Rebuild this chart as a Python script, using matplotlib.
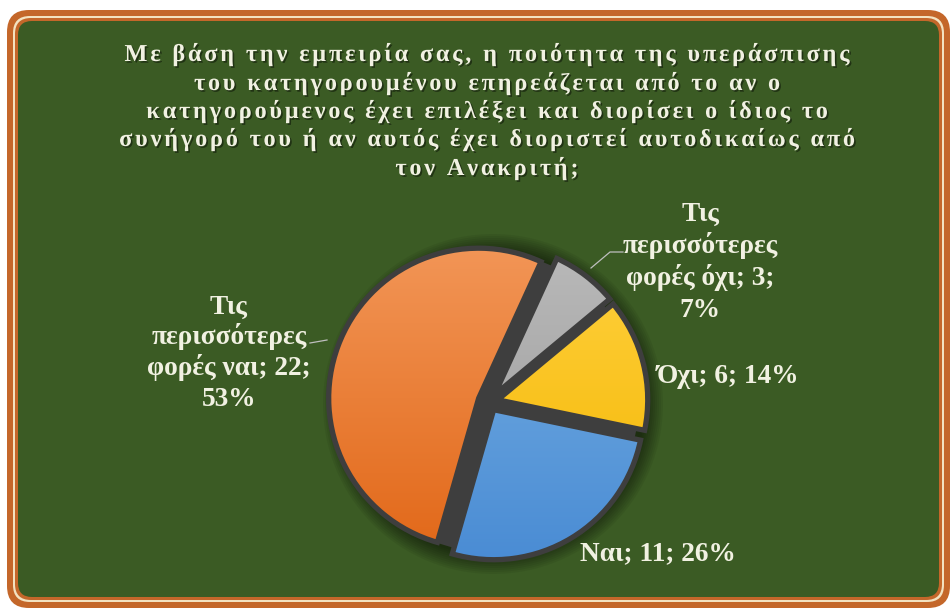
import matplotlib

matplotlib.use("Agg")
import matplotlib.pyplot as plt
import matplotlib.patheffects as pe
import numpy as np
from matplotlib.colors import to_rgb
from matplotlib.font_manager import FontProperties
from matplotlib.patches import Circle, FancyBboxPatch

# data
TITLE_LINES = [
    "Με βάση την εμπειρία σας, η ποιότητα της υπεράσπισης",
    "του κατηγορουμένου επηρεάζεται από το αν ο",
    "κατηγορούμενος έχει επιλέξει και διορίσει ο ίδιος το",
    "συνήγορό του ή αν αυτός έχει διοριστεί αυτοδικαίως από",
    "τον Ανακριτή;",
]
CATEGORIES = ["Ναι", "Όχι", "Τις περισσότερες φορές όχι", "Τις περισσότερες φορές ναι"]
COUNTS = [11, 6, 3, 22]
PERCENTS = [26, 14, 7, 53]

SLICE_TOP = ["#76AFE3", "#FFD23F", "#B9B9B9", "#F29556"]
SLICE_BOTTOM = ["#4A8CD4", "#F4B400", "#9B9B9B", "#E2691A"]
EDGE = "#3E3E3E"
GREEN = "#3B5B24"
BROWN = "#C4672A"
TEXT = "#F1F1E2"

W, H = 952, 610
fig = plt.figure(figsize=(W / 100, H / 100), dpi=100)
fig.patch.set_facecolor("white")
ax = fig.add_axes([0, 0, 1, 1])
ax.set_xlim(0, W)
ax.set_ylim(0, H)
ax.axis("off")


def Y(y):
    return H - y


def rounded(x0, y0, x1, y1, r, color, z):
    ax.add_patch(FancyBboxPatch((x0, Y(y1)), x1 - x0, y1 - y0,
                                boxstyle=f"round,pad=0,rounding_size={r}",
                                facecolor=color, edgecolor="none", zorder=z))


# frame: brown band, cream line, brown line, green panel
rounded(7, 10, 950, 608, 22, BROWN, 0)
rounded(13, 16, 944, 602, 17, "#F3E2C0", 0.1)
rounded(15, 18, 942, 600, 16, BROWN, 0.2)
rounded(18, 21, 939, 597, 14, GREEN, 0.3)

renderer = fig.canvas.get_renderer()


def text_width(s, prop):
    return renderer.get_text_width_height_descent(s, prop, ismath=False)[0]


def char_width(c, prop):
    if c == " ":
        return text_width("x x", prop) - text_width("xx", prop)
    return text_width(c, prop)


# title, letter-spaced like the original
title_prop = FontProperties(family="Liberation Serif", weight="bold", size=17.5)
title_fx = [pe.SimplePatchShadow(offset=(1.2, -1.2), shadow_rgbFace="black", alpha=0.45), pe.Normal()]


def spaced_line(text, cx, baseline, prop, spacing):
    widths = [char_width(c, prop) for c in text]
    total = sum(widths) + spacing * (len(text) - 1)
    x = cx - total / 2
    for c, w in zip(text, widths):
        if c != " ":
            ax.text(x, Y(baseline), c, fontproperties=prop, color=TEXT,
                    ha="left", va="baseline", zorder=5, path_effects=title_fx)
        x += w + spacing


first = TITLE_LINES[0]
natural = sum(char_width(c, title_prop) for c in first)
spacing = (725 - natural) / (len(first) - 1)
title_baselines = [61, 90, 118, 146, 175]
for line, b in zip(TITLE_LINES, title_baselines):
    spaced_line(line, 487, b, title_prop, spacing)

# pie
center = (489, Y(402))
radius = 150
explode = [9, 9, 9, 11]
start = -106

# soft dark halo behind the pie
for i in range(10):
    ax.add_patch(Circle((center[0] + 4, center[1] - 2), radius + 20 - 2 * i,
                        facecolor="black", edgecolor="none", alpha=0.06, zorder=1))
ax.add_patch(Circle(center, radius, facecolor=EDGE, edgecolor="none", zorder=1.5))

wedges, _ = ax.pie(COUNTS, startangle=start, counterclock=True, center=center,
                   radius=radius, explode=explode, frame=True,
                   colors=SLICE_BOTTOM, wedgeprops=dict(linewidth=0, zorder=2))
for w, top, bot in zip(wedges, SLICE_TOP, SLICE_BOTTOM):
    cx, cy = w.center
    grad = np.linspace(to_rgb(bot), to_rgb(top), 256)[:, None, :]
    im = ax.imshow(grad, extent=[cx - radius, cx + radius, cy - radius, cy + radius],
                   origin="lower", aspect="auto", interpolation="bilinear", zorder=2.5)
    im.set_clip_path(w)

ax.pie(COUNTS, startangle=start, counterclock=True, center=center,
       radius=radius, explode=explode, frame=True,
       wedgeprops=dict(facecolor="none", edgecolor=EDGE, linewidth=3.8, zorder=3))

ax.set_xlim(0, W)
ax.set_ylim(0, H)
ax.set_aspect("auto")
ax.axis("off")

# data labels, sized so the long word matches the original width
probe = FontProperties(family="Liberation Serif", weight="bold", size=10)
label_size = 10 * 156 / text_width("περισσότερες", probe)
label_prop = FontProperties(family="Liberation Serif", weight="bold", size=label_size)


def label(lines, cx, first_baseline, step=31.0):
    for k, s in enumerate(lines):
        ax.text(cx, Y(first_baseline + k * step), s, fontproperties=label_prop,
                color=TEXT, ha="center", va="baseline", zorder=5)


texts = [f"{c}; {n}; {p}%" for c, n, p in zip(CATEGORIES, COUNTS, PERCENTS)]
label([texts[0]], 658, 560)
label([texts[1]], 728, 383)
label(["Τις", "περισσότερες", f"φορές όχι; {COUNTS[2]};", f"{PERCENTS[2]}%"], 700, 221, 32)
label(["Τις", "περισσότερες", f"φορές ναι; {COUNTS[3]};", f"{PERCENTS[3]}%"], 229, 314, 30.5)

# leader lines
ax.plot([623, 610, 591], [Y(252), Y(252), Y(268)], color="#BFBFBF", lw=0.9, zorder=4)
ax.plot([310, 327], [Y(343), Y(340)], color="#BFBFBF", lw=0.9, zorder=4)

fig.savefig("out.png", dpi=100, facecolor=fig.get_facecolor())
plt.close(fig)
